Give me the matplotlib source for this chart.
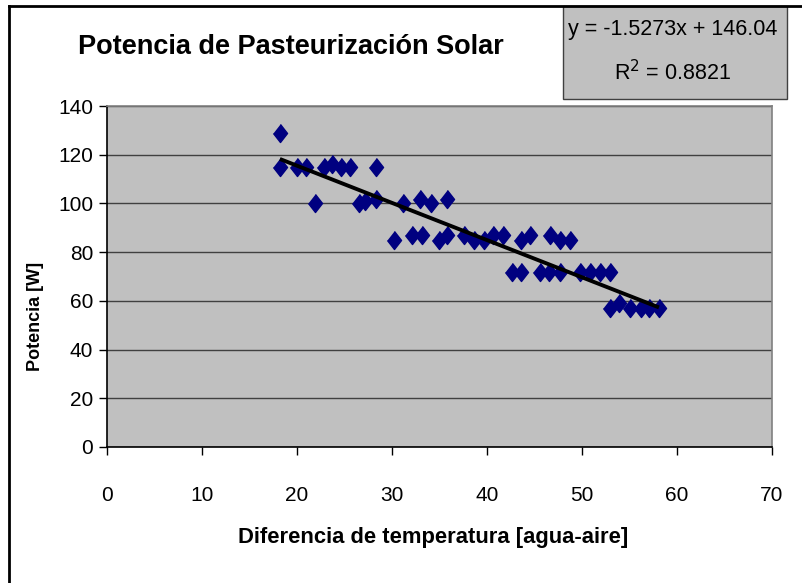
import matplotlib.pyplot as plt
from matplotlib.lines import Line2D
from matplotlib.patches import Rectangle

# datos
dif_temp = [18.2, 18.2, 20.0, 20.9, 21.9, 22.8, 23.7, 24.6, 25.6, 26.5, 27.2, 28.3, 28.3,
            30.2, 31.2, 32.1, 33.0, 33.2, 34.1, 35.0, 35.8, 35.8, 37.6, 38.6, 39.7, 40.6,
            41.7, 42.6, 43.6, 43.6, 44.5, 45.6, 46.5, 46.6, 47.7, 47.7, 48.7, 49.8, 50.8,
            51.9, 53.0, 53.0, 53.9, 55.1, 56.2, 57.1, 58.1]
potencia = [129, 115, 115, 115, 100, 115, 116, 115, 115, 100, 101, 115, 102,
            85, 100, 87, 102, 87, 100, 85, 102, 87, 87, 85, 85, 87,
            87, 72, 72, 85, 87, 72, 72, 87, 72, 85, 85, 72, 72,
            72, 72, 57, 59, 57, 57, 57, 57]

pendiente = -1.5273
ordenada = 146.04
r2 = 0.8821

x_ticks = [0, 10, 20, 30, 40, 50, 60, 70]
y_ticks = [0, 20, 40, 60, 80, 100, 120, 140]

plt.rcParams['font.family'] = ['Liberation Sans', 'DejaVu Sans']

W, H = 803, 583
fig = plt.figure(figsize=(W / 100, H / 100), dpi=100)

# marco de la figura (solo izquierda y arriba visibles)
fig.add_artist(Line2D([8.5 / W, 8.5 / W], [0, 1 - 5.5 / H], transform=fig.transFigure, color='black', lw=2))
fig.add_artist(Line2D([8.5 / W, 1], [1 - 5.5 / H, 1 - 5.5 / H], transform=fig.transFigure, color='black', lw=2))

ax = fig.add_axes([107 / W, 1 - 447 / H, (772 - 107) / W, (447 - 106) / H])
ax.set_facecolor('#C0C0C0')
for s in ax.spines.values():
    s.set_color('#808080')
    s.set_linewidth(1.2)
ax.spines['bottom'].set_color('black')
ax.spines['left'].set_color('black')

ax.set_xlim(0, 70)
ax.set_ylim(0, 140)
ax.set_xticks(x_ticks)
ax.set_yticks(y_ticks)
ax.tick_params(direction='out', length=6, width=1, labelsize=15)
ax.tick_params(axis='x', pad=22)
ax.tick_params(axis='y', pad=4)
ax.grid(axis='y', color='#404040', lw=1)
ax.set_axisbelow(True)

diamante = [(0, 1), (0.78, 0), (0, -1), (-0.78, 0)]
ax.plot(dif_temp, potencia, linestyle='none', marker=diamante, ms=13,
        color='#000080', mec='#000080', zorder=3)

x0, x1 = min(dif_temp), max(dif_temp)
ax.plot([x0, x1], [pendiente * x0 + ordenada, pendiente * x1 + ordenada],
        color='black', lw=2.8, solid_capstyle='butt', zorder=4)

ax.set_xlabel('Diferencia de temperatura [agua-aire]', fontsize=15.8, fontweight='bold')
ax.xaxis.set_label_coords((433 - 107) / 665, -(527 - 447) / 341)
ax.set_ylabel('Potencia [W]', fontsize=13, fontweight='bold')
ax.yaxis.set_label_coords(-0.095, (447 - 316) / 341)

fig.text(291 / W, 1 - 47 / H, 'Potencia de Pasteurización Solar', fontsize=19.5,
         fontweight='bold', ha='center', va='center')

# caja de la ecuacion
fig.add_artist(Rectangle((563 / W, 1 - 99 / H), (787 - 563) / W, (99 - 6) / H,
                         transform=fig.transFigure, facecolor='#C0C0C0',
                         edgecolor='#404040', lw=1))
fig.text(673 / W, 1 - 30 / H, 'y = %.4fx + %.2f' % (pendiente, ordenada), fontsize=15.5,
         ha='center', va='center')
fig.text(673 / W, 1 - 73 / H, 'R$^2$ = %.4f' % r2, fontsize=15.5, ha='center', va='center')

fig.savefig('out.png', dpi=100)
